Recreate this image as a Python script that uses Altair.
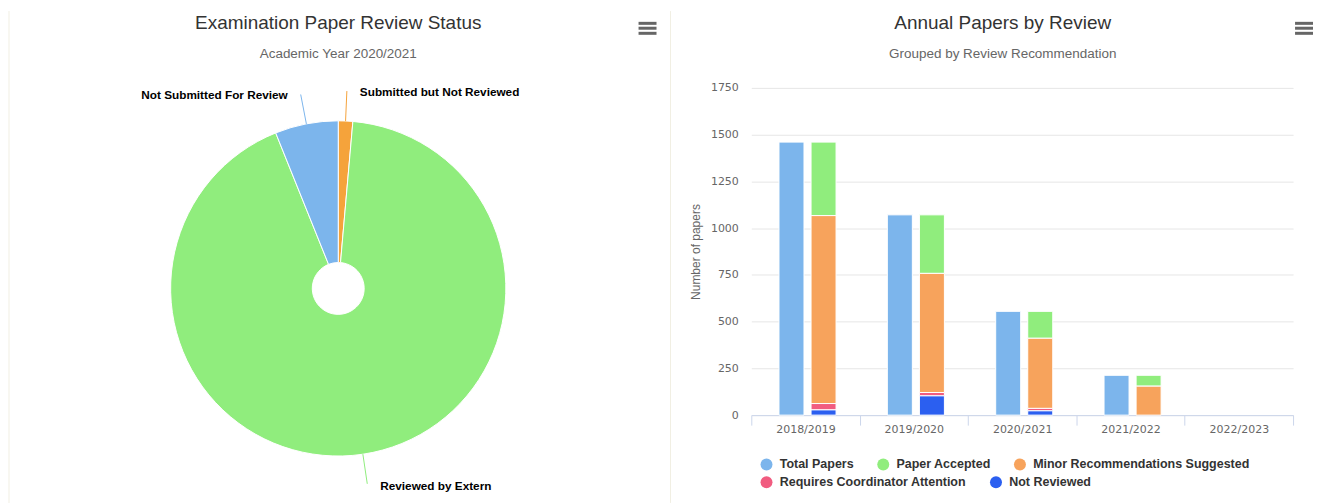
import math
import altair as alt
import pandas as pd

# ---------------- data ----------------
pie_labels = ["Submitted but Not Reviewed", "Reviewed by Extern", "Not Submitted For Review"]
pie_values = [8, 532, 35]
pie_colors = ["#f5a33b", "#90ed7d", "#7cb5ec"]

years = ["2018/2019", "2019/2020", "2020/2021", "2021/2022", "2022/2023"]
total_papers = [1460, 1071, 555, 213, 0]
paper_accepted = [393, 313, 144, 58, 0]
minor_recs = [1005, 637, 375, 155, 0]
requires_attention = [34, 18, 13, 0, 0]
not_reviewed = [28, 103, 23, 0, 0]

series_names = ["Total Papers", "Paper Accepted", "Minor Recommendations Suggested",
                "Requires Coordinator Attention", "Not Reviewed"]
series_colors = ["#7cb5ec", "#90ed7d", "#f7a35c", "#f15c80", "#2b5ff0"]
y_ticks = [0, 250, 500, 750, 1000, 1250, 1500, 1750]

TITLE_FONT = "Liberation Sans"
SUB_FONT = "Liberation Sans"

# ---------------- pie panel ----------------
pie_df = pd.DataFrame({"label": pie_labels, "value": pie_values, "ord": list(range(len(pie_labels)))})
pie_total = sum(pie_values)
R_OUT, R_IN, R_LAB = 168, 26, 198
conn_rows, lab_rows = [], []
cum = 0
for lab, v in zip(pie_labels, pie_values):
    mid = (cum + v / 2) / pie_total * 2 * math.pi
    cum += v
    s, c = math.sin(mid), math.cos(mid)
    conn_rows.append({"label": lab, "pt": 0, "x": R_OUT * s, "y": R_OUT * c})
    conn_rows.append({"label": lab, "pt": 1, "x": R_LAB * s, "y": R_LAB * c})
    lab_rows.append({"label": lab, "x": R_LAB * s + (13 if s >= 0 else -13),
                     "y": R_LAB * c + (-1 if c > 0 else -2),
                     "side": "right" if s >= 0 else "left"})
conn_df = pd.DataFrame(conn_rows)
lab_df = pd.DataFrame(lab_rows)

LW, LH = 660, 402
pie_color = alt.Scale(domain=pie_labels, range=pie_colors)
xs = alt.X("x:Q", scale=alt.Scale(domain=[-LW / 2, LW / 2], nice=False, zero=False), axis=None)
ys = alt.Y("y:Q", scale=alt.Scale(domain=[-LH / 2, LH / 2], nice=False, zero=False), axis=None)

arcs = alt.Chart(pie_df).mark_arc(outerRadius=R_OUT, innerRadius=R_IN, stroke="white", strokeWidth=1).encode(
    theta=alt.Theta("value:Q", stack=True),
    color=alt.Color("label:N", scale=pie_color, legend=None),
    order=alt.Order("ord:Q"),
)
connectors = alt.Chart(conn_df).mark_line(strokeWidth=1).encode(
    x=xs, y=ys, detail="label:N", order="pt:Q",
    color=alt.Color("label:N", scale=pie_color, legend=None),
)
lab_font = dict(font="Liberation Sans", fontSize=11.8, fontWeight="bold", color="#000000", baseline="middle")
labels_r = alt.Chart(lab_df).transform_filter("datum.side == 'right'").mark_text(align="left", **lab_font).encode(
    x=xs, y=ys, text="label:N")
labels_l = alt.Chart(lab_df).transform_filter("datum.side == 'left'").mark_text(align="right", **lab_font).encode(
    x=xs, y=ys, text="label:N")

dummy = alt.Data(values=[{}])
BORDER = "#f1efe3"
TOP_REL, BOT_REL = -77, 416


def border(xv):
    return alt.Chart(dummy).mark_rule(color=BORDER, strokeWidth=1).encode(
        x=alt.value(xv), y=alt.value(TOP_REL), y2=alt.value(BOT_REL))


def menu_icon(x0, x1):
    out = []
    for yv in (-64.7, -59.8, -54.7):
        out.append(alt.Chart(dummy).mark_rule(color="#666666", strokeWidth=3).encode(
            x=alt.value(x0), x2=alt.value(x1), y=alt.value(yv)))
    return out


title_common = dict(font=TITLE_FONT, fontSize=19, fontWeight="normal", color="#333333",
                    subtitleFont=SUB_FONT, subtitleFontSize=13.5, subtitleColor="#666666",
                    subtitlePadding=14, anchor="middle", frame="group", offset=-50)

left = alt.layer(
    border(0), arcs, connectors, labels_r, labels_l, *menu_icon(631, 649)
).properties(
    width=LW, height=LH,
    title=alt.Title("Examination Paper Review Status", subtitle="Academic Year 2020/2021", **title_common),
)

# ---------------- bar panel ----------------
stack_rank = {"Not Reviewed": 0, "Requires Coordinator Attention": 1,
              "Minor Recommendations Suggested": 2, "Paper Accepted": 3, "Total Papers": 0}
series_values = [total_papers, paper_accepted, minor_recs, requires_attention, not_reviewed]
rows = []
for i, yr in enumerate(years):
    for name, vals in zip(series_names, series_values):
        if vals[i] > 0:
            rows.append({"year": yr, "series": name, "value": vals[i],
                         "group": "Total" if name == "Total Papers" else "Breakdown",
                         "rank": stack_rank[name]})
bar_df = pd.DataFrame(rows)

x_enc = alt.X("year:N", sort=years,
              scale=alt.Scale(domain=years, paddingInner=0, paddingOuter=0),
              axis=alt.Axis(title=None, tickBand="extent", domainColor="#ccd6eb", tickColor="#ccd6eb",
                            tickSize=10, labelFont="DejaVu Sans", labelFontSize=11, labelColor="#666666",
                            labelPadding=-2, labelAngle=0, grid=False))
xo_enc = alt.XOffset("group:N", sort=["Total", "Breakdown"],
                     scale=alt.Scale(domain=["Total", "Breakdown"], paddingInner=0.22,
                                     paddingOuter=0.8, align=0.54))
y_enc = alt.Y("top:Q", scale=alt.Scale(domain=[0, 1750], nice=False),
              axis=alt.Axis(values=y_ticks, format="d", title="Number of papers",
                            titleFont="Liberation Sans", titleFontSize=12, titleFontWeight="normal",
                            titleColor="#666666", titlePadding=8,
                            labelFont="DejaVu Sans", labelFontSize=11, labelColor="#666666",
                            labelPadding=13, domain=False, ticks=False, grid=True, gridColor="#e6e6e6"))

stacked = alt.Chart(bar_df).transform_window(
    top="sum(value)", groupby=["year", "group"], sort=[alt.SortField("rank", order="ascending")],
    frame=[None, 0],
).transform_calculate(bottom="datum.top - datum.value")

legend_common = dict(title=None, orient="none", legendX=9, direction="horizontal",
                     symbolType="circle", symbolSize=144, symbolStrokeWidth=0,
                     labelFont="Liberation Sans", labelFontSize=12.5, labelFontWeight="bold",
                     labelColor="#333333", labelOffset=7, columnPadding=23, labelLimit=400)


def bar_layer(names, legend_y):
    cols = [series_colors[series_names.index(n)] for n in names]
    cond = " || ".join(f"datum.series == '{n}'" for n in names)
    return stacked.transform_filter(cond).mark_bar(stroke="white", strokeWidth=1).encode(
        x=x_enc, xOffset=xo_enc, y=y_enc, y2=alt.Y2("bottom:Q"),
        color=alt.Color("series:N", scale=alt.Scale(domain=names, range=cols),
                        legend=alt.Legend(legendY=legend_y, **legend_common)),
    )


bars_a = bar_layer(series_names[:3], 371)
bars_b = bar_layer(series_names[3:], 389)

RW, RH = 543, 328
right_title = dict(title_common)
right_title["dx"] = -19.5
right = alt.layer(
    border(-81), bars_a, bars_b, *menu_icon(545, 563)
).resolve_scale(color="independent").resolve_legend(color="independent").properties(
    width=RW, height=RH,
    title=alt.Title("Annual Papers by Review", subtitle="Grouped by Review Recommendation", **right_title),
)

chart = alt.hconcat(left, right, spacing=2).resolve_scale(
    color="independent"
).resolve_legend(color="independent").properties(
    padding={"left": 0, "top": 1.5, "right": 0, "bottom": 0},
    background="white",
).configure_view(stroke=None)

chart.save("out.html", embed_options={"renderer": "svg", "actions": False})
